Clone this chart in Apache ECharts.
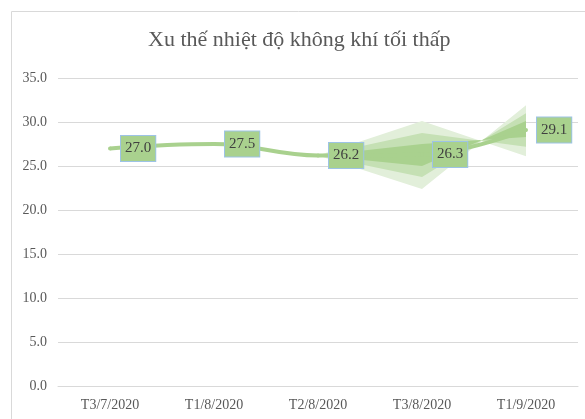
<!DOCTYPE html>
<html>
<head>
<meta charset="utf-8">
<script src="https://cdn.jsdelivr.net/npm/echarts@6/dist/echarts.min.js"></script>
<style>
html, body { margin: 0; padding: 0; background: #fff; }
#main { width: 585px; height: 419px; }
</style>
</head>
<body>
<div id="main"></div>
<script>
var categories = ['T3/7/2020', 'T1/8/2020', 'T2/8/2020', 'T3/8/2020', 'T1/9/2020'];
var values = [27.0, 27.5, 26.2, 26.3, 29.1];
var yTicks = [0, 5, 10, 15, 20, 25, 30, 35];

// vùng dự báo (hai cạnh của mỗi dải, cắt nhau giữa T3/8 và T1/9)
var outerA = [null, null, 26.2, 30.1, 26.1];
var outerB = [null, null, 26.2, 22.4, 31.9];
var middleA = [null, null, 26.2, 28.75, 27.2];
var middleB = [null, null, 26.2, 23.75, 31.0];
var innerA = [null, null, 26.2, 27.5, 28.3];
var innerB = [null, null, 26.2, 25.0, 30.1];

var FONT = "'Liberation Serif', 'Times New Roman', serif";

function bandRows(a, b) {
  var rows = [];
  for (var i = 0; i < a.length - 1; i++) {
    if (a[i] == null || a[i + 1] == null) continue;
    rows.push([i, a[i], b[i], a[i + 1], b[i + 1]]);
  }
  return rows;
}

function bandSeries(a, b, color) {
  return {
    type: 'custom',
    silent: true,
    data: bandRows(a, b),
    encode: { x: 0, y: [1, 2, 3, 4] },
    renderItem: function (params, api) {
      var i = api.value(0);
      var p1 = api.coord([i, api.value(1)]);
      var p2 = api.coord([i + 1, api.value(3)]);
      var p3 = api.coord([i + 1, api.value(4)]);
      var p4 = api.coord([i, api.value(2)]);
      return {
        type: 'polygon',
        shape: { points: [p1, p2, p3, p4] },
        style: { fill: color }
      };
    }
  };
}

var myChart = echarts.init(document.getElementById('main'));

var option = {
  animation: false,
  title: {
    text: 'Xu thế nhiệt độ không khí tối thấp',
    left: 148,
    top: 29,
    padding: 0,
    textStyle: { fontFamily: FONT, fontSize: 22, fontWeight: 'normal', color: '#595959' }
  },
  graphic: [{
    type: 'rect',
    shape: { x: 11.5, y: 11.5, width: 600, height: 420 },
    style: { fill: 'none', stroke: '#d9d9d9', lineWidth: 1 },
    silent: true
  }],
  grid: { left: 58, top: 78, width: 520, height: 308 },
  xAxis: {
    type: 'category',
    data: categories,
    boundaryGap: true,
    axisLine: { show: true, lineStyle: { color: '#d9d9d9' } },
    axisTick: { show: false },
    axisLabel: { fontFamily: FONT, fontSize: 14, color: '#595959', margin: 12 }
  },
  yAxis: {
    type: 'value',
    min: yTicks[0],
    max: yTicks[yTicks.length - 1],
    interval: 5,
    axisLine: { show: false },
    axisTick: { show: false },
    splitLine: { lineStyle: { color: '#d9d9d9' } },
    axisLabel: {
      fontFamily: FONT, fontSize: 14, color: '#595959', margin: 11,
      formatter: function (v) { return v.toFixed(1); }
    }
  },
  series: [
    bandSeries(outerA, outerB, '#e2efda'),
    bandSeries(middleA, middleB, '#c5e0b4'),
    bandSeries(innerA, innerB, '#a9d18e'),
    {
      type: 'line',
      data: values,
      smooth: 0.4,
      symbol: 'circle',
      symbolSize: 4,
      showSymbol: true,
      itemStyle: { color: '#a9d18e' },
      lineStyle: { color: '#a9d18e', width: 4 },
      label: {
        show: true,
        position: 'right',
        distance: 9,
        fontFamily: FONT,
        fontSize: 15,
        color: '#404040',
        backgroundColor: '#a9d18e',
        borderColor: '#9dc3e6',
        borderWidth: 1,
        padding: [5, 4, 5, 4],
        formatter: function (p) { return p.value.toFixed(1); }
      },
      z: 5
    }
  ]
};
myChart.setOption(option);
</script>
</body>
</html>
